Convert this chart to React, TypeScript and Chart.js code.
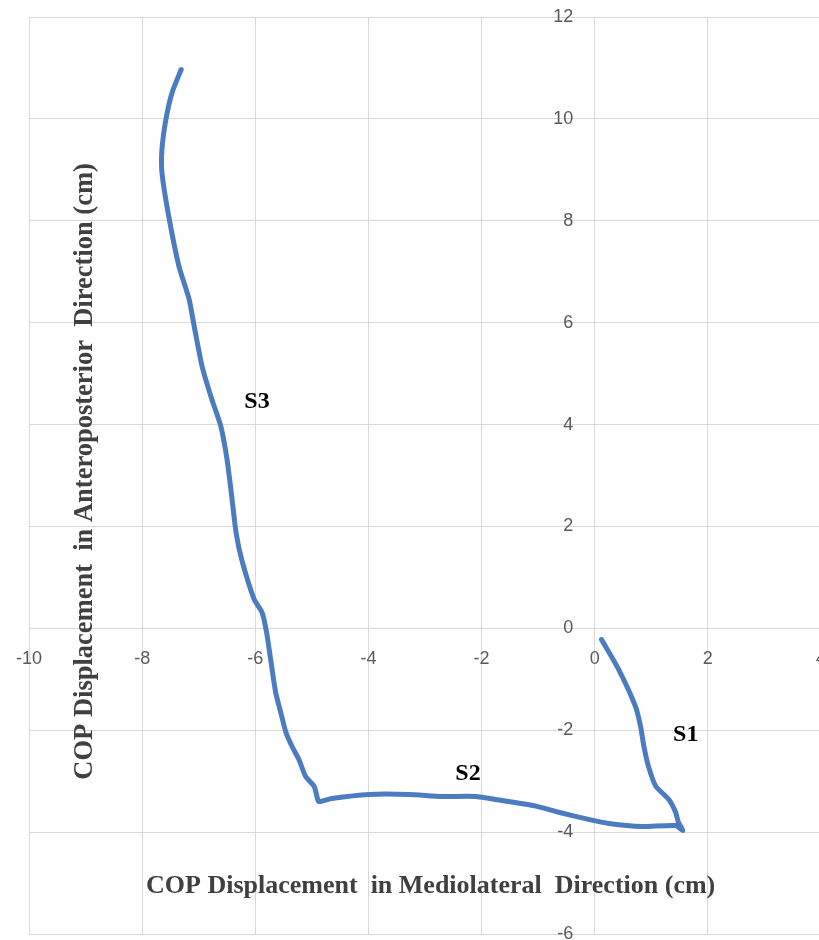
import React, { useEffect, useRef } from "react";
import { Chart, registerables } from "chart.js";

Chart.register(...registerables);

// COP trajectory, in drawing order (S1 -> S2 -> S3)
const copX: number[] = [
  0.12, 0.42, 0.72, 0.81, 0.87, 0.95, 1.08, 1.31, 1.43, 1.48, 1.56,
  1.43, 0.83, 0.25, -0.11, -0.64, -1.04, -1.52, -2.1, -2.7, -3.29, -3.99, -4.65, -4.88,
  -4.91, -4.96, -5.11, -5.23, -5.35, -5.46, -5.55, -5.64, -5.71, -5.8, -5.88, -6.02,
  -6.24, -6.34, -6.41, -6.5, -6.61, -6.77, -6.94, -7.08, -7.17, -7.35, -7.53, -7.65,
  -7.65, -7.58, -7.47, -7.31,
];
const copY: number[] = [
  -0.22, -0.8, -1.53, -1.92, -2.32, -2.71, -3.1, -3.36, -3.61, -3.81, -3.97,
  -3.87, -3.89, -3.83, -3.75, -3.61, -3.49, -3.4, -3.3, -3.3, -3.26, -3.26, -3.34, -3.4,
  -3.3, -3.1, -2.91, -2.57, -2.32, -2.04, -1.65, -1.26, -0.75, -0.08, 0.31, 0.57,
  1.35, 1.88, 2.53, 3.32, 3.97, 4.5, 5.14, 5.93, 6.46, 7.11, 8.09, 8.95,
  9.4, 9.99, 10.52, 10.97,
];

const segmentLabels: string[] = ["S1", "S2", "S3"];
const segmentLabelX: number[] = [1.61, -2.24, -5.97];
const segmentLabelY: number[] = [-2.08, -2.85, 4.44];

const xTitle = "COP Displacement  in Mediolateral  Direction (cm)";
const yTitle = "COP Displacement  in Anteroposterior  Direction (cm)";

const X_MIN = -10, X_MAX = 4, Y_MIN = -6, Y_MAX = 12, STEP = 2;

const textPlugin = {
  id: "textPlugin",
  afterDatasetsDraw(chart: any) {
    const { ctx, scales } = chart;
    const xs = scales.x, ys = scales.y;
    ctx.save();
    ctx.fillStyle = "#000000";
    ctx.font = "bold 24px 'Liberation Serif', 'Times New Roman', serif";
    ctx.textAlign = "center";
    ctx.textBaseline = "middle";
    segmentLabels.forEach((t, i) => {
      ctx.fillText(t, xs.getPixelForValue(segmentLabelX[i]), ys.getPixelForValue(segmentLabelY[i]));
    });
    ctx.fillStyle = "#404040";
    ctx.font = "bold 26px 'Liberation Serif', 'Times New Roman', serif";
    ctx.fillText(xTitle, xs.getPixelForValue(-2.9), ys.getPixelForValue(-5.06));
    ctx.translate(xs.getPixelForValue(-9.0), ys.getPixelForValue(3.08));
    ctx.rotate(-Math.PI / 2);
    ctx.font = "bold 26.5px 'Liberation Serif', 'Times New Roman', serif";
    ctx.fillText(yTitle, 0, 0);
    ctx.restore();
  },
};

export default function App() {
  const ref = useRef<HTMLCanvasElement>(null);
  useEffect(() => {
    if (!ref.current) return;
    const points = copX.map((x, i) => ({ x, y: copY[i] }));
    const chart = new Chart(ref.current, {
      type: "scatter",
      data: {
        datasets: [
          {
            data: points,
            showLine: true,
            borderColor: "#4a7cbf",
            backgroundColor: "#4a7cbf",
            borderWidth: 5,
            pointRadius: 0,
            tension: 0.2,
            borderCapStyle: "round",
            borderJoinStyle: "round",
          },
        ],
      },
      options: {
        responsive: false,
        animation: false,
        devicePixelRatio: 1,
        layout: { padding: { left: 33, right: 25, top: 32, bottom: 33 } },
        plugins: { legend: { display: false }, tooltip: { enabled: false } },
        scales: {
          x: {
            type: "linear",
            min: X_MIN,
            max: X_MAX,
            position: { y: 0 },
            grid: { color: "#d9d9d9", lineWidth: 1, drawTicks: false },
            border: { display: false },
            ticks: {
              stepSize: STEP,
              color: "#595959",
              padding: 20,
              font: { size: 18, family: "'Liberation Sans', Arial, sans-serif" },
            },
          },
          y: {
            type: "linear",
            min: Y_MIN,
            max: Y_MAX,
            // labels sit right-aligned a little to the left of the x = 0 grid line
            position: { x: -0.38 },
            grid: { color: "#d9d9d9", lineWidth: 1, drawTicks: false },
            border: { display: false },
            ticks: {
              stepSize: STEP,
              color: "#595959",
              padding: 0,
              font: { size: 18, family: "'Liberation Sans', Arial, sans-serif" },
            },
          },
        },
      },
      plugins: [textPlugin],
    } as any);
    return () => chart.destroy();
  }, []);
  return (
    <div
      style={{
        position: "absolute",
        left: 0,
        top: 0,
        width: 819,
        height: 940,
        overflow: "hidden",
        background: "#ffffff",
      }}
    >
      <canvas
        ref={ref}
        width={850}
        height={982}
        style={{ position: "absolute", left: -4, top: -15 }}
      />
    </div>
  );
}
